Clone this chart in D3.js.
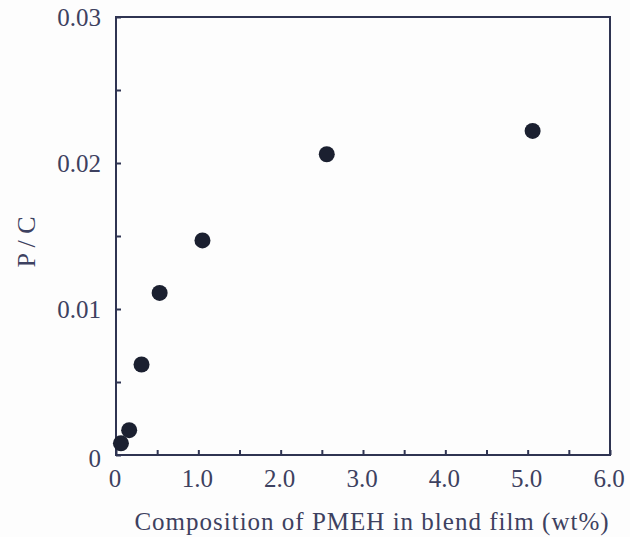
<!DOCTYPE html>
<html>
<head>
<meta charset="utf-8">
<script src="https://cdn.jsdelivr.net/npm/d3@7"></script>
<style>
  body { margin: 0; background: #fdfdfd; }
  svg text { font-family: "Liberation Serif", "DejaVu Serif", serif; fill: #3d4160; }
</style>
</head>
<body>
<div id="chart"></div>
<script>
var composition = [0.06, 0.16, 0.31, 0.53, 1.05, 2.56, 5.06];
var pc = [0.0008, 0.0017, 0.0062, 0.0111, 0.0147, 0.0206, 0.0222];
var xTicks = [0, 1, 2, 3, 4, 5, 6];
var xTickLabels = ["0", "1.0", "2.0", "3.0", "4.0", "5.0", "6.0"];
var yTicks = [0, 0.01, 0.02, 0.03];
var yTickLabels = ["0", "0.01", "0.02", "0.03"];

var width = 630, height = 537;
var plotLeft = 116, plotRight = 610, plotTop = 17, plotBottom = 455;
var ink = "#2f3452";

var svg = d3.select("#chart").append("svg")
  .attr("width", width)
  .attr("height", height);

var x = d3.scaleLinear().domain([0, 6]).range([plotLeft, plotRight]);
var y = d3.scaleLinear().domain([0, 0.03]).range([plotBottom, plotTop]);

// frame
svg.append("rect")
  .attr("x", plotLeft).attr("y", plotTop)
  .attr("width", plotRight - plotLeft).attr("height", plotBottom - plotTop)
  .attr("fill", "none").attr("stroke", ink).attr("stroke-width", 2);

// inward ticks, major + minor
var xAxis = d3.axisBottom(x).tickValues(d3.range(0, 6.01, 0.5))
  .tickSize(-5).tickFormat("");
svg.append("g").attr("transform", "translate(0," + plotBottom + ")").call(xAxis)
  .call(function(g) {
    g.select(".domain").remove();
    g.selectAll("line").attr("stroke", ink).attr("stroke-width", 2);
  });

var yAxis = d3.axisLeft(y).tickValues(d3.range(0, 0.0301, 0.005))
  .tickSize(-5).tickFormat("");
svg.append("g").attr("transform", "translate(" + plotLeft + ",0)").call(yAxis)
  .call(function(g) {
    g.select(".domain").remove();
    g.selectAll("line").attr("stroke", ink).attr("stroke-width", 2);
  });

// tick labels
svg.selectAll(".xlab").data(xTicks).enter().append("text")
  .attr("class", "xlab")
  .attr("x", function(d) { return x(d) - 1; })
  .attr("y", 487)
  .attr("text-anchor", "middle")
  .attr("font-size", 25)
  .text(function(d, i) { return xTickLabels[i]; });

svg.selectAll(".ylab").data(yTicks).enter().append("text")
  .attr("class", "ylab")
  .attr("x", 101)
  .attr("y", function(d) { return d === 0 ? y(d) + 12 : y(d) + 9; })
  .attr("text-anchor", "end")
  .attr("font-size", 25)
  .text(function(d, i) { return yTickLabels[i]; });

// axis titles
svg.append("text")
  .attr("x", 372)
  .attr("y", 530)
  .attr("text-anchor", "middle")
  .attr("font-size", 25)
  .attr("letter-spacing", 1)
  .text("Composition of PMEH in blend film (wt%)");

svg.append("text")
  .attr("transform", "translate(35,242) rotate(-90)")
  .attr("text-anchor", "middle")
  .attr("font-size", 26)
  .text("P / C");

// data points
svg.selectAll(".dot").data(composition).enter().append("circle")
  .attr("class", "dot")
  .attr("cx", function(d) { return x(d); })
  .attr("cy", function(d, i) { return y(pc[i]); })
  .attr("r", 8)
  .attr("fill", "#1b2030");
</script>
</body>
</html>
